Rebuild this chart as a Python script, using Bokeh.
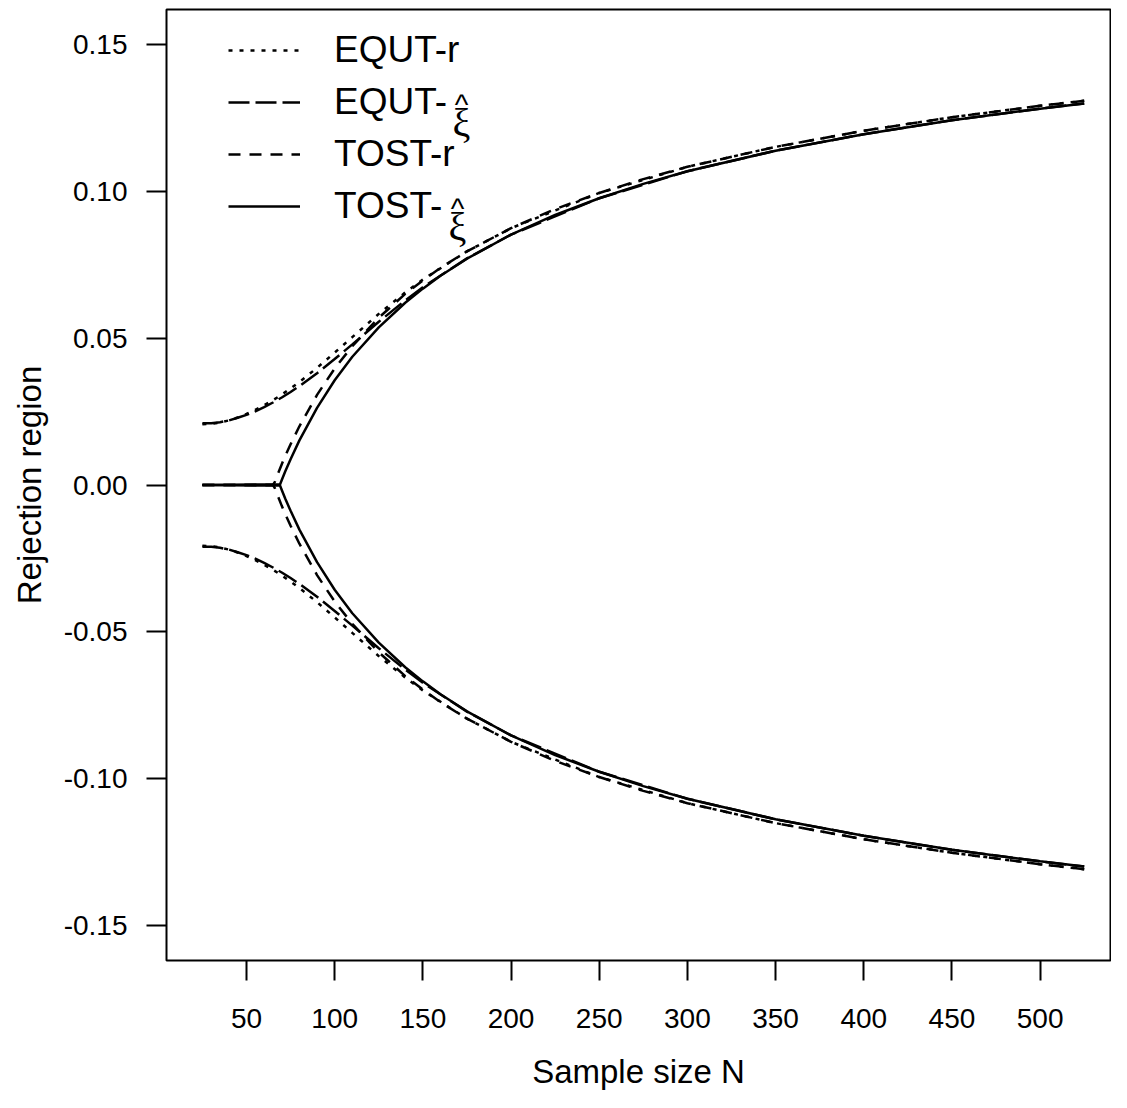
from bokeh.plotting import figure
from bokeh.models import Range1d, FixedTicker, Legend, LegendItem, ColumnDataSource, Label
from bokeh.embed import file_html
from bokeh.resources import INLINE

# ---- data (upper boundary; lower boundary is its mirror) ----
n_equt = [25, 30, 35, 40, 45, 50, 55, 60, 65, 70, 75, 80, 90, 100, 110, 125, 140,
          150, 175, 200, 250, 300, 350, 400, 450, 500, 525]
equt_r = [0.0207, 0.0208, 0.0213, 0.0220, 0.0230, 0.0242, 0.0256, 0.0272, 0.0289,
          0.0308, 0.0329, 0.0351, 0.0399, 0.0451, 0.0504, 0.0583, 0.0656, 0.0700,
          0.0796, 0.0875, 0.0995, 0.1084, 0.1152, 0.1207, 0.1253, 0.1292, 0.1309]
equt_xi = [0.0210, 0.0210, 0.0214, 0.0220, 0.0229, 0.0239, 0.0251, 0.0265, 0.0281,
           0.0298, 0.0317, 0.0337, 0.0381, 0.0429, 0.0479, 0.0556, 0.0629, 0.0674,
           0.0772, 0.0853, 0.0977, 0.1069, 0.1139, 0.1195, 0.1243, 0.1282, 0.1300]

n_tost_r = [25, 65, 66, 68, 70, 72, 75, 80, 90, 100, 110, 125, 140, 150, 160, 175,
            200, 225, 250, 275, 300, 350, 400, 450, 500, 525]
tost_r = [0.0, 0.0, 0.0010, 0.0041, 0.0071, 0.0099, 0.0139, 0.0200, 0.0307, 0.0397,
          0.0473, 0.0570, 0.0651, 0.0697, 0.0740, 0.0796, 0.0875, 0.0940, 0.0995,
          0.1042, 0.1084, 0.1152, 0.1207, 0.1253, 0.1292, 0.1309]

n_tost_xi = [25, 69, 70, 72, 75, 80, 90, 100, 110, 125, 140, 150, 160, 175, 200,
             225, 250, 275, 300, 350, 400, 450, 500, 525]
tost_xi = [0.0, 0.0002, 0.0017, 0.0047, 0.0088, 0.0152, 0.0263, 0.0357, 0.0437,
           0.0537, 0.0621, 0.0669, 0.0713, 0.0771, 0.0853, 0.0920, 0.0977, 0.1026,
           0.1069, 0.1139, 0.1195, 0.1243, 0.1282, 0.1300]

x_ticks = [50, 100, 150, 200, 250, 300, 350, 400, 450, 500]
y_ticks = [-0.15, -0.10, -0.05, 0.0, 0.05, 0.10, 0.15]
y_tick_labels = ["-0.15", "-0.10", "-0.05", "0.00", "0.05", "0.10", "0.15"]

# legend label prefixes; the xi-hat series get "ξ" plus a hat drawn beside them
series_names = ["EQUT-r", "EQUT-", "TOST-r", "TOST-"]
has_hat = [False, True, False, True]

FONT = "Liberation Sans"

p = figure(width=1111, height=1092, output_backend="svg", toolbar_location=None,
           x_range=Range1d(4.64, 539.9), y_range=Range1d(-0.162, 0.162),
           min_border_left=166, min_border_right=1, min_border_top=9,
           min_border_bottom=132)
p.grid.visible = False
p.outline_line_color = "black"
p.outline_line_width = 2
p.background_fill_color = "white"
p.border_fill_color = "white"

styles = [
    (n_equt, equt_r, "4 7"),
    (n_equt, equt_xi, "21 6"),
    (n_tost_r, tost_r, "12 9"),
    (n_tost_xi, tost_xi, "solid"),
]

items = []
for name, (nx, vals, dash) in zip(series_names, styles):
    src = ColumnDataSource(dict(n=nx, up=vals, lo=[-v for v in vals]))
    r_up = p.line("n", "up", source=src, line_color="black", line_width=2.5,
                  line_dash=dash)
    p.line("n", "lo", source=src, line_color="black", line_width=2.5, line_dash=dash)
    items.append(LegendItem(label=name, renderers=[r_up]))

legend = Legend(items=items, location=(62, 733), glyph_width=72, glyph_height=20,
                label_text_font_size="37px", label_text_font=FONT,
                label_text_color="black",
                label_standoff=34, spacing=10, padding=0, margin=0,
                border_line_color=None, background_fill_alpha=0)
p.add_layout(legend)

# "ξ" with a hat for the xi-hat legend entries (screen units, relative to the frame)
xi_pos = [None, (286, 861), None, (282, 757)]
hat_pos = [None, (295, 872), None, (291, 768)]
for hh, xp, hp in zip(has_hat, xi_pos, hat_pos):
    if hh:
        p.add_layout(Label(x=xp[0], y=xp[1], x_units="screen", y_units="screen",
                           text="\u03be", text_align="left",
                           text_baseline="top", text_font="Liberation Serif",
                           text_font_size="40px", text_color="black"))
        p.add_layout(Label(x=hp[0], y=hp[1], x_units="screen", y_units="screen",
                           text="^", text_align="center",
                           text_baseline="top", text_font=FONT,
                           text_font_size="29px", text_color="black"))

for ax in (p.xaxis[0], p.yaxis[0]):
    ax.axis_line_color = None
    ax.major_tick_out = 20
    ax.major_tick_in = 0
    ax.major_tick_line_width = 2
    ax.minor_tick_line_color = None
    ax.major_label_text_font = FONT
    ax.major_label_text_font_size = "28px"
    ax.major_label_text_color = "black"
    ax.axis_label_text_font = FONT
    ax.axis_label_text_font_size = "33px"
    ax.axis_label_text_font_style = "normal"
    ax.axis_label_text_color = "black"

p.xaxis.ticker = FixedTicker(ticks=x_ticks)
p.xaxis.major_label_standoff = 28
p.xaxis.axis_label = "Sample size N"
p.xaxis.axis_label_standoff = 22

p.yaxis.ticker = FixedTicker(ticks=y_ticks)
p.yaxis.major_label_overrides = {t: s for t, s in zip(y_ticks, y_tick_labels)}
p.yaxis.major_label_orientation = "horizontal"
p.yaxis.major_label_standoff = 19
p.yaxis.axis_label = "Rejection region"
p.yaxis.axis_label_standoff = 13

open("out.html", "w").write(file_html(p, INLINE))
